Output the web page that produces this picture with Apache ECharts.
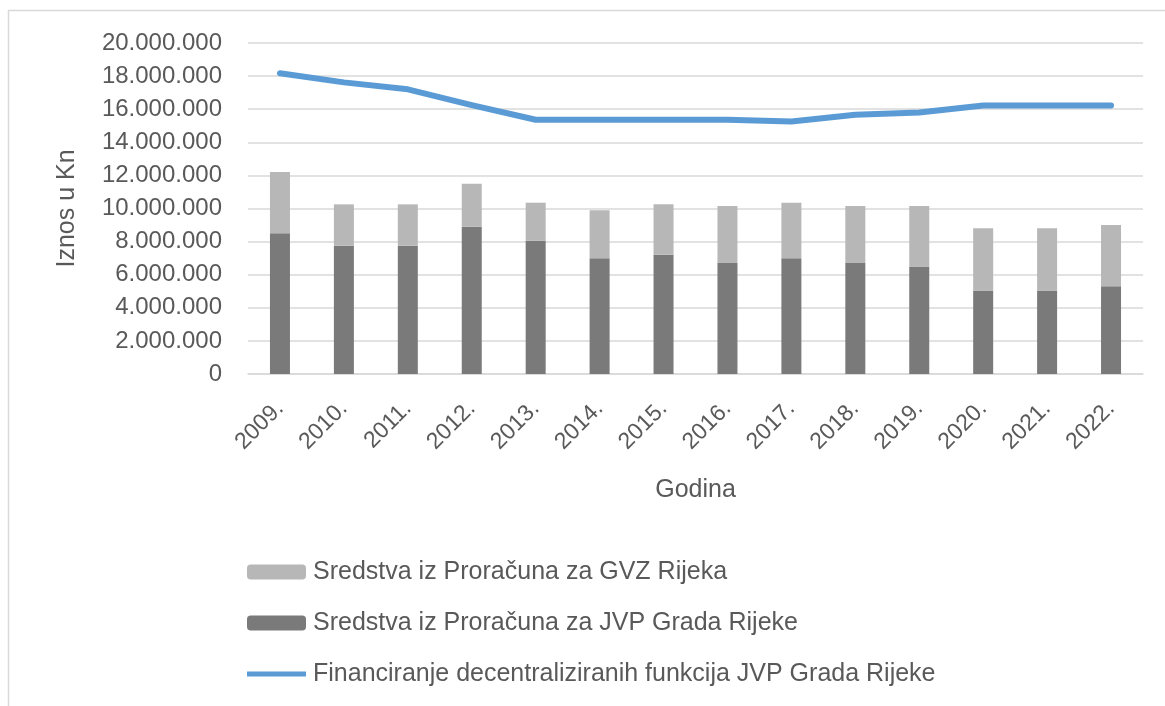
<!DOCTYPE html>
<html>
<head>
<meta charset="utf-8">
<title>Financiranje JVP Grada Rijeke</title>
<script src="https://cdn.jsdelivr.net/npm/echarts@6/dist/echarts.min.js"></script>
<style>
    html, body { margin: 0; padding: 0; background: #fff; }
    #chart { width: 1165px; height: 706px; }
</style>
</head>
<body>
<div id="chart"></div>
<script>
// godine (kategorije)
var godine = ['2009.', '2010.', '2011.', '2012.', '2013.', '2014.', '2015.', '2016.', '2017.', '2018.', '2019.', '2020.', '2021.', '2022.'];

// Sredstva iz Proračuna za JVP Grada Rijeke (tamni dio stupca)
var jvpProracun = [8500000, 7750000, 7750000, 8900000, 8050000, 7000000, 7200000, 6700000, 7000000, 6700000, 6500000, 5050000, 5050000, 5300000];

// Sredstva iz Proračuna za GVZ Rijeka (svijetli dio stupca)
var gvzProracun = [3700000, 2500000, 2500000, 2600000, 2300000, 2900000, 3050000, 3450000, 3350000, 3450000, 3650000, 3750000, 3750000, 3700000];

// Financiranje decentraliziranih funkcija (linija)
var decentralizirano = [18170000, 17620000, 17200000, 16250000, 15360000, 15360000, 15360000, 15360000, 15260000, 15660000, 15800000, 16220000, 16220000, 16220000];

var imeGvz = 'Sredstva iz Proračuna za GVZ Rijeka';
var imeJvp = 'Sredstva iz Proračuna za JVP Grada Rijeke';
var imeLinija = 'Financiranje decentraliziranih funkcija JVP Grada Rijeke';

var sivaTekst = '#595959';
var plava = '#5b9bd5';
var font = "'Liberation Sans', Arial, sans-serif";

var myChart = echarts.init(document.getElementById('chart'));

var option = {
    backgroundColor: '#ffffff',
    animation: false,
    textStyle: { fontFamily: font },
    graphic: [{
        type: 'rect',
        shape: { x: 8.5, y: 10.5, width: 1300, height: 900 },
        style: { fill: 'none', stroke: '#d9d9d9', lineWidth: 1.5 },
        silent: true
    }],
    grid: { left: 248, right: 22, top: 43, bottom: 332 },
    legend: {
        orient: 'vertical',
        left: 247,
        top: 558,
        padding: 0,
        itemWidth: 59,
        itemHeight: 15,
        itemGap: 23,
        symbolKeepAspect: true,
        data: [
            imeGvz,
            imeJvp,
            { name: imeLinija, icon: 'path://M0,0 L59,0 L59,5 L0,5 Z', itemStyle: { color: plava } }
        ],
        textStyle: {
            fontSize: 25,
            lineHeight: 28,
            color: sivaTekst,
            padding: [0, 0, 0, 2]
        }
    },
    xAxis: {
        type: 'category',
        data: godine,
        name: 'Godina',
        nameLocation: 'middle',
        nameGap: 104,
        nameTextStyle: { fontSize: 25, color: sivaTekst },
        axisLine: { lineStyle: { color: '#d9d9d9', width: 1.5 } },
        axisTick: { show: false },
        axisLabel: { rotate: 45, margin: 31, fontSize: 23, color: sivaTekst }
    },
    yAxis: {
        type: 'value',
        min: 0,
        max: 20000000,
        interval: 2000000,
        name: 'Iznos u Kn',
        nameLocation: 'middle',
        nameGap: 168,
        nameTextStyle: { fontSize: 25, color: sivaTekst },
        axisLine: { show: false },
        axisTick: { show: false },
        splitLine: { lineStyle: { color: '#d9d9d9', width: 1.5 } },
        axisLabel: {
            margin: 26,
            fontSize: 24,
            color: sivaTekst,
            formatter: function (v) {
                return String(v).replace(/\B(?=(\d{3})+(?!\d))/g, '.');
            }
        }
    },
    series: [{
        name: imeJvp,
        type: 'bar',
        stack: 'ukupno',
        barWidth: 20,
        itemStyle: { color: '#7a7a7a' },
        data: jvpProracun
    }, {
        name: imeGvz,
        type: 'bar',
        stack: 'ukupno',
        barWidth: 20,
        itemStyle: { color: '#b7b7b7' },
        data: gvzProracun
    }, {
        name: imeLinija,
        type: 'line',
        symbol: 'none',
        lineStyle: { color: plava, width: 6, cap: 'round', join: 'round' },
        itemStyle: { color: plava },
        data: decentralizirano
    }]
};

myChart.setOption(option);
</script>
</body>
</html>
